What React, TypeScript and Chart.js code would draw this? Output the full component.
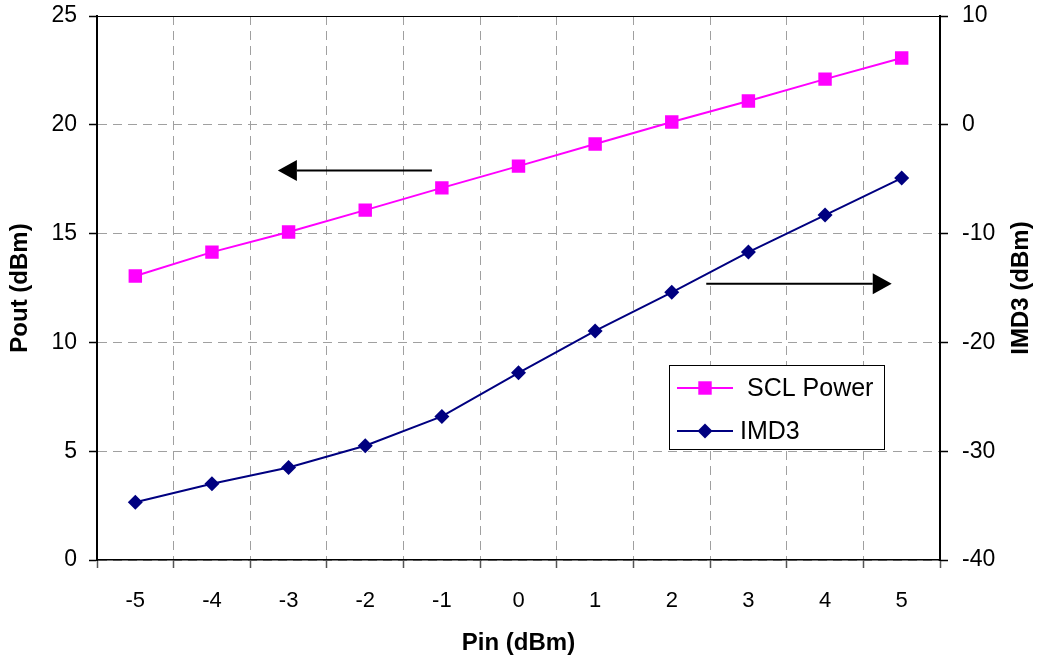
import React, { useEffect, useRef } from 'react';
import { Chart, registerables } from 'chart.js';

Chart.register(...registerables);

// ---- data ----
const PIN_LABELS = ['-5', '-4', '-3', '-2', '-1', '0', '1', '2', '3', '4', '5'];
const SCL_POWER = [13.05, 14.15, 15.07, 16.08, 17.1, 18.1, 19.12, 20.13, 21.09, 22.1, 23.07];
const IMD3 = [-34.7, -33.0, -31.5, -29.5, -26.8, -22.8, -18.95, -15.4, -11.7, -8.3, -4.9];
const POUT_RANGE = [0, 25, 5];
const IMD3_RANGE = [-40, 10, 10];
// arrows: from/to in Pin (dBm), value on the axis they point to
const ARROW_LEFT = { axis: 'y', fromPin: -1.13, toPin: -3.14, value: 17.9 };
const ARROW_RIGHT = { axis: 'y1', fromPin: 2.45, toPin: 4.87, value: -14.6 };

const FONT = "'Liberation Sans', Arial, sans-serif";
const MAGENTA = '#FF00FF';
const NAVY = '#000080';

const overlayPlugin = {
  id: 'overlay',
  afterDraw(chart: any) {
    const { ctx, chartArea, scales } = chart;
    const { left, right, top, bottom } = chartArea;
    ctx.save();

    // top frame line
    ctx.strokeStyle = '#000';
    ctx.lineWidth = 1;
    ctx.setLineDash([]);
    ctx.beginPath();
    ctx.moveTo(left, top + 0.5);
    ctx.lineTo(right, top + 0.5);
    ctx.stroke();

    // arrows
    const pin0 = Number(PIN_LABELS[0]);
    [ARROW_LEFT, ARROW_RIGHT].forEach((a) => {
      const ys = scales[a.axis];
      const x1 = scales.x.getPixelForValue(a.fromPin - pin0);
      const x2 = scales.x.getPixelForValue(a.toPin - pin0);
      const y = ys.getPixelForValue(a.value);
      const dir = Math.sign(x2 - x1);
      const headLen = 19;
      const headHalf = 10.5;
      ctx.strokeStyle = '#000';
      ctx.lineWidth = 2;
      ctx.beginPath();
      ctx.moveTo(x1, y);
      ctx.lineTo(x2 - dir * headLen, y);
      ctx.stroke();
      ctx.fillStyle = '#000';
      ctx.beginPath();
      ctx.moveTo(x2, y);
      ctx.lineTo(x2 - dir * headLen, y - headHalf);
      ctx.lineTo(x2 - dir * headLen, y + headHalf);
      ctx.closePath();
      ctx.fill();
    });

    // axis titles
    ctx.fillStyle = '#000';
    ctx.font = `bold 24px ${FONT}`;
    ctx.textAlign = 'center';
    ctx.textBaseline = 'middle';
    ctx.fillText('Pin (dBm)', (left + right) / 2, 643);
    const midY = (top + bottom) / 2;
    ctx.save();
    ctx.translate(20, midY);
    ctx.rotate(-Math.PI / 2);
    ctx.fillText('Pout (dBm)', 0, 0);
    ctx.restore();
    ctx.save();
    ctx.translate(1021, midY);
    ctx.rotate(-Math.PI / 2);
    ctx.fillText('IMD3 (dBm)', 0, 0);
    ctx.restore();

    // legend
    const bx = 669, by = 365, bw = 215, bh = 84;
    ctx.fillStyle = '#fff';
    ctx.fillRect(bx, by, bw, bh);
    ctx.strokeStyle = '#000';
    ctx.lineWidth = 1;
    ctx.strokeRect(bx + 0.5, by + 0.5, bw, bh);
    const items = [
      { label: 'SCL Power', color: MAGENTA, style: 'rect', r: 9.5, y: 388, tx: 747 },
      { label: 'IMD3', color: NAVY, style: 'rectRot', r: 7.5, y: 431, tx: 740 },
    ];
    items.forEach((it) => {
      ctx.strokeStyle = it.color;
      ctx.lineWidth = 2;
      ctx.beginPath();
      ctx.moveTo(677, it.y);
      ctx.lineTo(733, it.y);
      ctx.stroke();
      ctx.fillStyle = it.color;
      ctx.beginPath();
      if (it.style === 'rect') {
        const s = it.r * Math.SQRT1_2;
        ctx.rect(705 - s, it.y - s, 2 * s, 2 * s);
      } else {
        ctx.moveTo(705 - it.r, it.y);
        ctx.lineTo(705, it.y - it.r);
        ctx.lineTo(705 + it.r, it.y);
        ctx.lineTo(705, it.y + it.r);
        ctx.closePath();
      }
      ctx.fill();
      ctx.fillStyle = '#000';
      ctx.font = `25px ${FONT}`;
      ctx.textAlign = 'left';
      ctx.textBaseline = 'middle';
      ctx.fillText(it.label, it.tx, it.y + 1);
    });

    ctx.restore();
  },
};

export default function App() {
  const canvasRef = useRef<HTMLCanvasElement | null>(null);

  useEffect(() => {
    if (!canvasRef.current) return;
    const chart = new Chart(canvasRef.current, {
      type: 'line',
      data: {
        labels: PIN_LABELS,
        datasets: [
          {
            label: 'SCL Power',
            data: SCL_POWER,
            yAxisID: 'y',
            borderColor: MAGENTA,
            backgroundColor: MAGENTA,
            borderWidth: 2,
            pointStyle: 'rect',
            pointRadius: 9.5,
            pointBorderWidth: 0,
            tension: 0,
          },
          {
            label: 'IMD3',
            data: IMD3,
            yAxisID: 'y1',
            borderColor: NAVY,
            backgroundColor: NAVY,
            borderWidth: 2,
            pointStyle: 'rectRot',
            pointRadius: 7.5,
            pointBorderWidth: 0,
            tension: 0,
          },
        ],
      },
      options: {
        animation: false,
        responsive: false,
        devicePixelRatio: 1,
        layout: { padding: { top: 16, left: 0, right: 0, bottom: 0 } },
        plugins: {
          legend: { display: false },
          tooltip: { enabled: false },
        },
        scales: {
          x: {
            type: 'category',
            offset: true,
            grid: {
              offset: true,
              color: '#a0a0a0',
              lineWidth: 1,
              drawTicks: true,
              tickLength: 8,
              tickColor: '#555',
              tickWidth: 1.5,
              tickBorderDash: [],
            },
            border: { color: '#000', width: 1.5, dash: [9, 6] },
            ticks: {
              color: '#000',
              font: { family: FONT, size: 22 },
              padding: 20,
              maxRotation: 0,
              autoSkip: false,
            },
            afterFit: (s: any) => {
              s.height = 101;
              s.paddingLeft = 0;
              s.paddingRight = 0;
            },
          },
          y: {
            position: 'left',
            min: POUT_RANGE[0],
            max: POUT_RANGE[1],
            grid: {
              color: '#a0a0a0',
              lineWidth: 1,
              tickLength: 8,
              tickColor: '#000',
              tickWidth: 1.5,
              tickBorderDash: [],
            },
            border: { color: '#000', width: 2, dash: [9, 6] },
            ticks: {
              stepSize: POUT_RANGE[2],
              color: '#000',
              font: { family: FONT, size: 23 },
              padding: 12,
            },
            afterFit: (s: any) => {
              s.width = 97;
              s.paddingTop = 0;
              s.paddingBottom = 0;
            },
          },
          y1: {
            position: 'right',
            min: IMD3_RANGE[0],
            max: IMD3_RANGE[1],
            grid: {
              drawOnChartArea: false,
              tickLength: 8,
              tickColor: '#000',
              tickWidth: 1.5,
              tickBorderDash: [],
            },
            border: { color: '#000', width: 2 },
            ticks: {
              stepSize: IMD3_RANGE[2],
              color: '#000',
              font: { family: FONT, size: 23 },
              padding: 14,
            },
            afterFit: (s: any) => {
              s.width = 99;
              s.paddingTop = 0;
              s.paddingBottom = 0;
            },
          },
        },
      },
      plugins: [overlayPlugin],
    });
    return () => chart.destroy();
  }, []);

  return (
    <div style={{ position: 'fixed', left: 0, top: 0, width: 1039, height: 661, background: '#fff' }}>
      <canvas ref={canvasRef} width={1039} height={661} style={{ width: 1039, height: 661 }} />
    </div>
  );
}
